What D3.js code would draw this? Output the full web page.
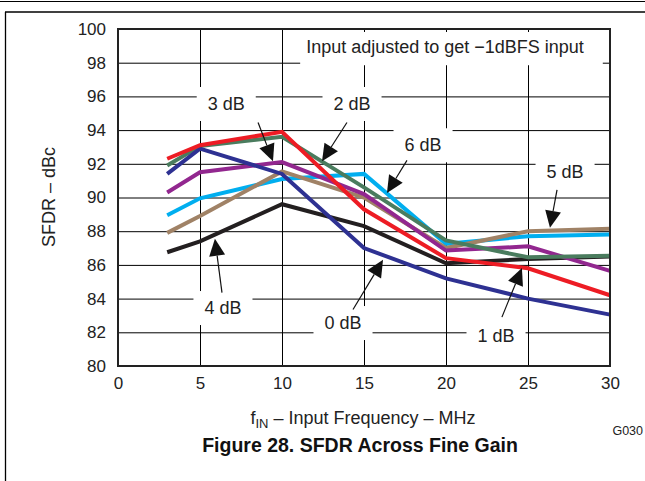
<!DOCTYPE html>
<html><head><meta charset="utf-8">
<script src="https://cdn.jsdelivr.net/npm/d3@7"></script>
<style>body{margin:0;background:#fff}svg{display:block;font-family:"Liberation Sans",Arial,sans-serif}</style>
</head><body><svg id="c" width="645" height="481"></svg>
<script>
// ---- data ----
const freqs = [3, 5, 10, 15, 20, 25, 30];
const xTicks = [0, 5, 10, 15, 20, 25, 30];
const yTicks = [80, 82, 84, 86, 88, 90, 92, 94, 96, 98, 100];
const gain0dB = [91.4, 92.9, 91.4, 87.0, 85.2, 84.0, 83.05];
const gain1dB = [92.3, 93.1, 93.9, 89.3, 86.4, 85.8, 84.2];
const gain2dB = [91.9, 93.05, 93.6, 90.6, 87.45, 86.45, 86.55];
const gain3dB = [90.3, 91.5, 92.1, 90.2, 86.85, 87.1, 85.65];
const gain4dB = [86.75, 87.4, 89.6, 88.3, 86.1, 86.35, 86.5];
const gain5dB = [87.9, 88.9, 91.55, 90.0, 87.0, 88.0, 88.15];
const gain6dB = [88.95, 89.95, 91.1, 91.4, 87.25, 87.7, 87.8];
const seriesNames = ["6 dB", "5 dB", "4 dB", "3 dB", "2 dB", "0 dB", "1 dB"];
const seriesValues = [gain6dB, gain5dB, gain4dB, gain3dB, gain2dB, gain0dB, gain1dB];
const seriesColors = ["#00aeef", "#a08266", "#231f20", "#92278f", "#4a7c5e", "#2e3192", "#ed1c24"];
// annotations: label text, label position (MHz, dBc), arrow start, arrow tip
const annotations = [
  {t: "3 dB", x: 6.6, y: 95.55, ax: 8.54, ay: 94.45, tx: 9.45, ty: 92.15},
  {t: "2 dB", x: 14.27, y: 95.55, ax: 13.96, ay: 94.45, tx: 12.44, ty: 92.15},
  {t: "6 dB", x: 18.6, y: 93.1, ax: 17.62, ay: 92.2, tx: 16.4, ty: 90.27},
  {t: "5 dB", x: 27.26, y: 91.5, ax: 26.77, ay: 90.45, tx: 26.34, ty: 88.2},
  {t: "4 dB", x: 6.4, y: 83.44, ax: 6.34, ay: 84.35, tx: 5.91, ty: 87.55},
  {t: "0 dB", x: 13.72, y: 82.55, ax: 14.33, ay: 83.35, tx: 16.16, ty: 86.3},
  {t: "1 dB", x: 23.05, y: 81.78, ax: 23.41, ay: 82.9, tx: 24.63, ty: 85.82}
];
const noteText = "Input adjusted to get \u22121dBFS input";

// ---- layout ----
const svg = d3.select("#c");
const L = 118, T = 29, W = 492, H = 337;
const x = d3.scaleLinear().domain([0, 30]).range([L, L + W]);
const y = d3.scaleLinear().domain([80, 100]).range([T + H, T]);
const FS = 18;

// page lines
svg.append("line").attr("x1", 0).attr("x2", 645).attr("y1", 1.5).attr("y2", 1.5).attr("stroke", "#000").attr("stroke-width", 1);
svg.append("line").attr("x1", 5).attr("x2", 645).attr("y1", 12).attr("y2", 12).attr("stroke", "#000").attr("stroke-width", 1.3);
svg.append("line").attr("x1", 5.5).attr("x2", 5.5).attr("y1", 12).attr("y2", 481).attr("stroke", "#000").attr("stroke-width", 1.3);

// grid via axes
svg.append("g").attr("transform", `translate(0,${T + H})`)
  .call(d3.axisBottom(x).tickValues(xTicks.slice(1, -1)).tickSize(H).tickFormat(""))
  .call(g => { g.select(".domain").remove(); g.selectAll("line").attr("stroke", "#000").attr("stroke-width", 1).attr("transform", `translate(0,${-H})`); });
svg.append("g").attr("transform", `translate(${L},0)`)
  .call(d3.axisRight(y).tickValues(yTicks.slice(1, -1)).tickSize(W).tickFormat(""))
  .call(g => { g.select(".domain").remove(); g.selectAll("line").attr("stroke", "#000").attr("stroke-width", 1); });

// tick labels
svg.append("g").attr("transform", `translate(${L},0)`)
  .call(d3.axisLeft(y).tickValues(yTicks).tickSize(0).tickPadding(12).tickFormat(d3.format("d")))
  .call(g => { g.select(".domain").remove(); g.selectAll("text").attr("font-size", 17).attr("fill", "#222").attr("font-family", "Liberation Sans, Arial"); });
svg.append("g").attr("transform", `translate(0,${T + H})`)
  .call(d3.axisBottom(x).tickValues(xTicks).tickSize(0).tickPadding(11).tickFormat(d3.format("d")))
  .call(g => { g.select(".domain").remove(); g.selectAll("text").attr("font-size", 17).attr("fill", "#222").attr("font-family", "Liberation Sans, Arial"); });

// label boxes (white) to break grid
const noteG = svg.append("g");
const noteT = noteG.append("text").attr("x", x(19.94)).attr("y", y(98.93)).attr("text-anchor", "middle")
  .attr("dominant-baseline", "central").attr("font-size", FS).attr("fill", "#222").text(noteText);
const nb = noteT.node().getBBox();
noteG.insert("rect", "text").attr("x", nb.x - 6).attr("y", T + 3).attr("width", x(29.56) - (nb.x - 6)).attr("height", y(97.85) - T - 3).attr("fill", "#fff");

const annG = svg.append("g");
annotations.forEach(a => {
  const g = annG.append("g");
  const t = g.append("text").attr("x", x(a.x)).attr("y", y(a.y)).attr("text-anchor", "middle")
    .attr("dominant-baseline", "central").attr("font-size", FS).attr("fill", "#222").text(a.t);
  const b = t.node().getBBox();
  g.insert("rect", "text").attr("x", b.x - 11).attr("y", b.y - 7).attr("width", b.width + 22).attr("height", b.height + 14).attr("fill", "#fff");
});

// series lines
const line = d3.line().x((d, i) => x(freqs[i])).y(d => y(d));
svg.append("g").selectAll("path").data(seriesValues).join("path")
  .attr("d", line).attr("fill", "none").attr("stroke", (d, i) => seriesColors[i])
  .attr("stroke-width", 4).attr("stroke-linejoin", "miter");

// arrows
annotations.forEach(a => {
  const x0 = x(a.ax), y0 = y(a.ay), x1 = x(a.tx), y1 = y(a.ty);
  const dx = x1 - x0, dy = y1 - y0, len = Math.hypot(dx, dy), ux = dx / len, uy = dy / len;
  const hl = 17, hw = 8;
  const bx = x1 - ux * hl, by = y1 - uy * hl;
  svg.append("line").attr("x1", x0).attr("y1", y0).attr("x2", bx).attr("y2", by).attr("stroke", "#111").attr("stroke-width", 1.2);
  svg.append("path").attr("d", `M${x1},${y1}L${bx - uy * hw},${by + ux * hw}L${bx + uy * hw},${by - ux * hw}Z`).attr("fill", "#111");
});

// frame
svg.append("rect").attr("x", L).attr("y", T).attr("width", W).attr("height", H).attr("fill", "none").attr("stroke", "#222").attr("stroke-width", 2);

// axis titles
const xt = svg.append("text").attr("x", 363).attr("y", 424).attr("text-anchor", "middle").attr("font-size", FS).attr("fill", "#222");
xt.append("tspan").text("f");
xt.append("tspan").attr("font-size", 13).attr("dy", 4).text("IN");
xt.append("tspan").attr("dy", -4).text(" \u2013 Input Frequency \u2013 MHz");
svg.append("text").attr("transform", "translate(55,197) rotate(-90)").attr("text-anchor", "middle").attr("font-size", FS).attr("fill", "#222").text("SFDR \u2013 dBc");
svg.append("text").attr("x", 643).attr("y", 435).attr("text-anchor", "end").attr("font-size", 12.5).attr("fill", "#222").text("G030");
svg.append("text").attr("x", 360).attr("y", 452).attr("text-anchor", "middle").attr("font-size", 19.5).attr("font-weight", "bold").attr("fill", "#111").text("Figure 28. SFDR Across Fine Gain");
</script></body></html>
